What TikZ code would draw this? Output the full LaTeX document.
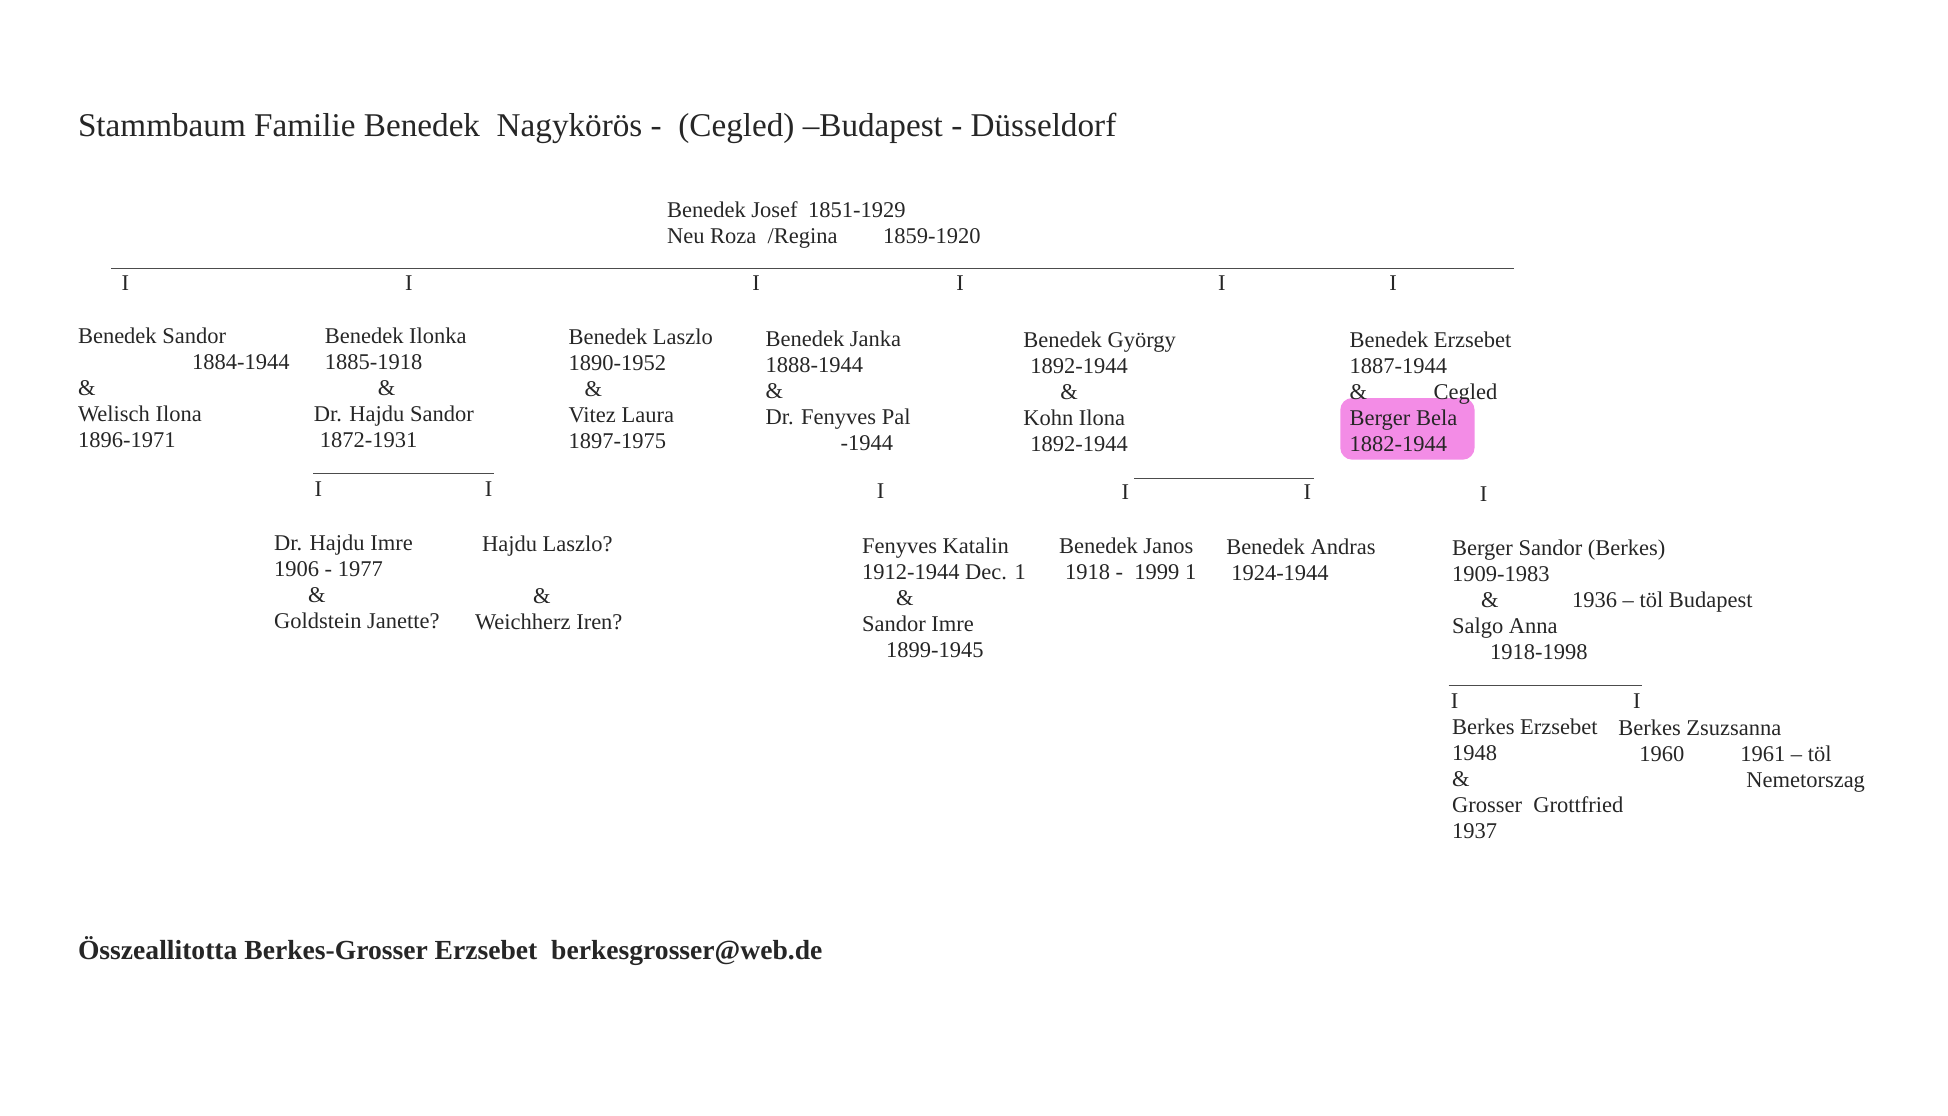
\documentclass[tikz,border=0pt]{standalone}
\usepackage{fontspec}
\setmainfont{Liberation Serif}
\definecolor{marker}{RGB}{243,140,230}
\newcommand\bodyfont{\fontsize{11.25}{13}\selectfont}

\begin{document}
\begin{tikzpicture}
        [   x = 0.4975pt
        ,   y = -0.4975pt
        ,   every node/.style =
            {   text = black!85
            ,   inner sep = 0pt
            }
        ,   person/.style =
            {   anchor = north west
            ,   align = left
            ,   font = \bodyfont
            }
        ,   tick/.style =
            {   anchor = base
            ,   font = \bodyfont
            }
        ,   bar/.style =
            {   draw = black!70
            ,   line width = 0.8pt
            }
        ]
        \useasboundingbox (0,0) rectangle (1957.8,1121.6);

        % Titel
        \node [anchor = base west, font = \fontsize{16.6}{20}\selectfont] (title) at (78,137)
            {Stammbaum Familie Benedek\ \ Nagykörös -\ \ (Cegled) –Budapest - Düsseldorf};

        % Eltern
        \node [person] (josef) at (670,202)
            {\makebox[70.5pt][l]{Benedek Josef}1851-1929\\
             \makebox[108pt][l]{Neu Roza\ \ /Regina}1859-1920};

        % erste Generation
        \coordinate (bar0w) at (112,270);
        \coordinate (bar0e) at (1522,270);
        \draw [bar] (bar0w) -- (bar0e);
        \foreach \x/\n in {126/1, 411/2, 760/3, 965/4, 1228/5, 1400/6}
            \node [tick] (tick0\n) at (\x,292) {I};

        \node [person] (sandor) at (78,329)
            {Benedek Sandor\\ \hspace*{57pt}1884-1944\\ \&\\ Welisch Ilona\\ 1896-1971};
        \node [person] (ilonka) at (315,329)
            {\hspace*{5.5pt}Benedek Ilonka\\ \hspace*{5.5pt}1885-1918\\ \hspace*{32pt}\&\\
             Dr. Hajdu Sandor\\ \hspace*{3pt}1872-1931};
        \node [person] (laszlo) at (571,330)
            {Benedek Laszlo\\ 1890-1952\\ \hspace*{8pt}\&\\ Vitez Laura\\ 1897-1975};
        \node [person] (janka) at (769,332)
            {Benedek Janka\\ 1888-1944\\ \&\\ Dr. Fenyves Pal\\ \hspace*{37.5pt}-1944};
        \node [person] (gyorgy) at (1028,333)
            {Benedek György\\ \hspace*{3.5pt}1892-1944\\ \hspace*{18.5pt}\&\\ Kohn Ilona\\ \hspace*{3.5pt}1892-1944};
        \fill [fill = marker, rounded corners = 6pt] (1347,400) rectangle (1482,462);
        \node [person] (erzsebet) at (1356,333)
            {Benedek Erzsebet\\ 1887-1944\\ \makebox[42pt][l]{\&}Cegled\\ Berger Bela\\ 1882-1944};

        % zweite Generation
        \coordinate (bar1w) at (315,476);
        \coordinate (bar1e) at (496,476);
        \draw [bar] (bar1w) -- (bar1e);
        \node [tick] (tick11) at (320,499) {I};
        \node [tick] (tick12) at (491,499) {I};
        \node [person] (imre) at (275,537)
            {Dr. Hajdu Imre\\ 1906 - 1977\\ \hspace*{17pt}\&\\ Goldstein Janette?};
        \node [person] (hlaszlo) at (477,538)
            {\hspace*{3.5pt}Hajdu Laszlo?\\[13pt] \hspace*{29pt}\&\\ Weichherz Iren?};

        \node [tick] (tick21) at (885,501) {I};
        \node [person] (katalin) at (866,540)
            {Fenyves Katalin\\ 1912-1944 Dec. 1\\ \hspace*{17pt}\&\\ Sandor Imre\\ \hspace*{12pt}1899-1945};

        \coordinate (bar2w) at (1140,481);
        \coordinate (bar2e) at (1321,481);
        \draw [bar] (bar2w) -- (bar2e);
        \node [tick] (tick31) at (1131,502) {I};
        \node [tick] (tick32) at (1314,502) {I};
        \node [person] (janos) at (1064,540)
            {Benedek Janos\\ \hspace*{3pt}1918 -\ \ 1999 1};
        \node [person] (andras) at (1232,541)
            {Benedek Andras\\ \hspace*{2.5pt}1924-1944};

        \node [tick] (tick41) at (1491,504) {I};
        \node [person] (bsandor) at (1459,542)
            {Berger Sandor (Berkes)\\ 1909-1983\\ \hspace*{14.5pt}\makebox[45.5pt][l]{\&}1936 – töl Budapest\\
             Salgo Anna\\ \hspace*{19pt}1918-1998};

        % dritte Generation
        \coordinate (bar3w) at (1456,689);
        \coordinate (bar3e) at (1650,689);
        \draw [bar] (bar3w) -- (bar3e);
        \node [tick] (tick51) at (1462,712) {I};
        \node [tick] (tick52) at (1645,712) {I};
        \node [person] (berzsebet) at (1459,722)
            {Berkes Erzsebet\\ 1948\\ \&\\ Grosser\ \ Grottfried\\ 1937};
        \node [person] (zsuzsanna) at (1626,723)
            {Berkes Zsuzsanna\\ \hspace*{10.5pt}\makebox[50.5pt][l]{1960}1961 – töl\\ \hspace*{64pt}Nemetorszag};

        % Fusszeile
        \node [anchor = base west, font = \fontsize{13.8}{16}\selectfont\bfseries] (footer) at (78,964)
            {Összeallitotta Berkes-Grosser Erzsebet\ \ berkesgrosser@web.de};
    \end{tikzpicture}
\end{document}
